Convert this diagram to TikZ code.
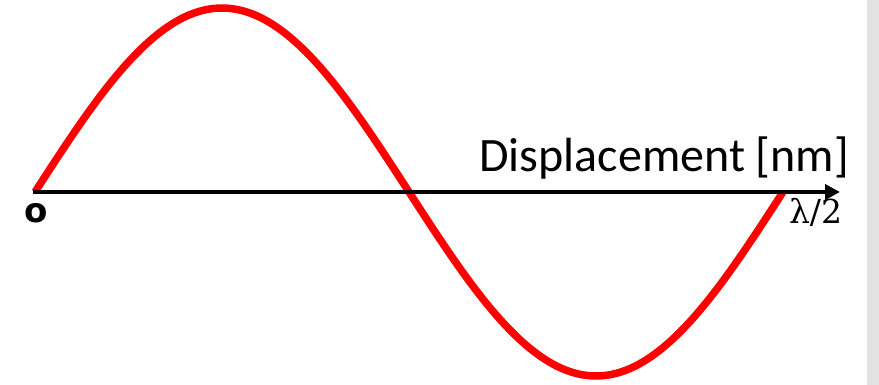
\documentclass[tikz,border=0pt]{standalone}
\usepackage{fontspec}
\setmainfont{Carlito}
\newfontfamily\dvsans{DejaVu Sans}
\newfontfamily\dvserif{DejaVu Serif}
\usetikzlibrary{arrows.meta}
\definecolor{stripgray}{HTML}{E3E3E3}
\tikzset{
  wave/.style={draw=red, line width=7.5pt, line join=round},
  axisline/.style={draw=black, line width=4.2pt, -{Triangle[length=15pt,width=15pt]}},
  lbl/.style={inner sep=0pt, outer sep=0pt}
}
\begin{document}
\begin{tikzpicture}[x=1pt,y=-1pt]
\useasboundingbox (0,0) rectangle (879,385);
\fill[stripgray] (867,0) rectangle (879,385);
\coordinate (o) at (33,192);
\coordinate (tip) at (840,192);
\draw[wave] plot[domain=0:360, samples=180, smooth] ({35+2.07778*\x},{192-184*sin(\x)});
\draw[axisline] (o) -- (tip);
\node[lbl, anchor=base east] (disp) at (849,172) {\fontsize{48}{50}\selectfont Displacement [nm]};
\node[lbl] (zero) at (36,213) {\fontsize{34}{36}\selectfont\dvsans\bfseries o};
\node[lbl, anchor=base west] (half) at (789,224) {\fontsize{33}{36}\selectfont\dvserif λ/2};
\end{tikzpicture}
\end{document}
